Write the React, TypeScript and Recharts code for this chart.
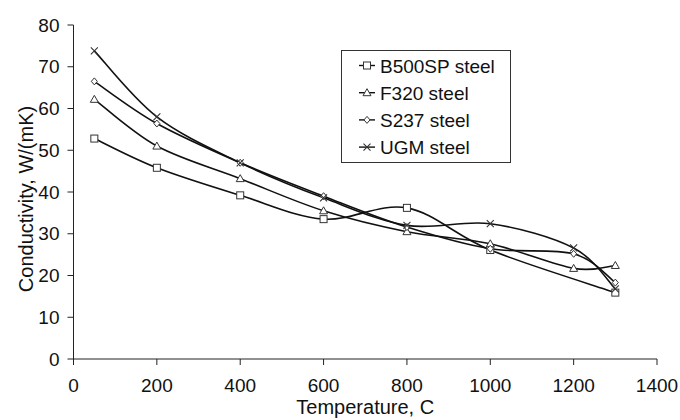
import React from 'react';
import { LineChart, Line, XAxis, YAxis, Legend } from 'recharts';

const temperatures = [50, 200, 400, 600, 800, 1000, 1200, 1300];
const b500sp = [52.8, 45.8, 39.2, 33.5, 36.2, 26.1, null, 15.9];
const f320 = [62.2, 51.0, 43.2, 35.5, 30.5, 27.6, 21.7, 22.4];
const s237 = [66.5, 56.4, 47.0, 39.0, 31.6, 26.4, 25.2, 18.3];
const ugm = [73.8, 58.0, 47.0, 38.6, 32.0, 32.4, 26.6, 16.8];

const xTicks = [0, 200, 400, 600, 800, 1000, 1200, 1400];
const yTicks = [0, 10, 20, 30, 40, 50, 60, 70, 80];

const FONT = '"Liberation Sans", Arial, sans-serif';
const INK = '#111';

type MarkerKind = 'square' | 'triangle' | 'diamond' | 'cross';

const series: { key: string; name: string; marker: MarkerKind }[] = [
    { key: 'b500sp', name: 'B500SP steel', marker: 'square' },
    { key: 'f320', name: 'F320 steel', marker: 'triangle' },
    { key: 's237', name: 'S237 steel', marker: 'diamond' },
    { key: 'ugm', name: 'UGM steel', marker: 'cross' },
];

const data = temperatures.map((t, i) => ({
    t,
    b500sp: b500sp[i],
    f320: f320[i],
    s237: s237[i],
    ugm: ugm[i],
}));

// Excel-like smoothed line (Catmull-Rom as bezier)
const smoothCurve = (context: any) => {
    let pts: [number, number][] = [];
    return {
        areaStart() {},
        areaEnd() {},
        lineStart() {
            pts = [];
        },
        lineEnd() {
            const n = pts.length;
            if (!n) return;
            context.moveTo(pts[0][0], pts[0][1]);
            for (let i = 0; i < n - 1; i++) {
                const p0 = pts[Math.max(i - 1, 0)];
                const p1 = pts[i];
                const p2 = pts[i + 1];
                const p3 = pts[Math.min(i + 2, n - 1)];
                context.bezierCurveTo(
                    p1[0] + (p2[0] - p0[0]) / 6,
                    p1[1] + (p2[1] - p0[1]) / 6,
                    p2[0] - (p3[0] - p1[0]) / 6,
                    p2[1] - (p3[1] - p1[1]) / 6,
                    p2[0],
                    p2[1]
                );
            }
        },
        point(x: number, y: number) {
            pts.push([+x, +y]);
        },
    };
};

const Marker: React.FC<{ kind: MarkerKind; cx: number; cy: number }> = ({ kind, cx, cy }) => {
    const common = { stroke: '#333', strokeWidth: 1, fill: '#fff' };
    if (kind === 'square') {
        return <rect x={cx - 3.5} y={cy - 3.5} width={7} height={7} {...common} />;
    }
    if (kind === 'triangle') {
        return <polygon points={`${cx},${cy - 4} ${cx + 4},${cy + 3} ${cx - 4},${cy + 3}`} {...common} />;
    }
    if (kind === 'diamond') {
        return <polygon points={`${cx},${cy - 3.5} ${cx + 3},${cy} ${cx},${cy + 3.5} ${cx - 3},${cy}`} {...common} />;
    }
    return (
        <path
            d={`M${cx - 3.5},${cy - 3.5}L${cx + 3.5},${cy + 3.5}M${cx - 3.5},${cy + 3.5}L${cx + 3.5},${cy - 3.5}`}
            stroke="#333"
            strokeWidth={1.1}
            fill="none"
        />
    );
};

const LegendBox = () => (
    <div
        style={{
            width: 170,
            height: 113,
            border: '1px solid #333',
            background: '#fff',
            boxSizing: 'border-box',
        }}
    >
        <svg width={168} height={111} style={{ display: 'block' }}>
            {series.map((s, i) => {
                const y = 14.5 + i * 27.2;
                return (
                    <g key={s.key}>
                        <line x1={17} x2={33} y1={y} y2={y} stroke={INK} strokeWidth={1.4} />
                        <Marker kind={s.marker} cx={25} cy={y} />
                        <text x={38} y={y + 7} fontSize={19} fontFamily={FONT} fill={INK}>
                            {s.name}
                        </text>
                    </g>
                );
            })}
        </svg>
    </div>
);

const YTitle = () => (
    <text
        transform="translate(33,199) rotate(-90)"
        textAnchor="middle"
        fontSize={20}
        fontFamily={FONT}
        fill={INK}
    >
        Conductivity, W/(mK)
    </text>
);

export default function App() {
    return (
        <div style={{ position: 'absolute', left: 0, top: 0, width: 680, height: 420, background: '#fff' }}>
            <LineChart
                width={680}
                height={420}
                data={data}
                margin={{ top: 25, right: 23, bottom: 6, left: 0 }}
                style={{ fontFamily: FONT }}
            >
                <XAxis
                    dataKey="t"
                    type="number"
                    domain={[0, 1400]}
                    ticks={xTicks}
                    interval={0}
                    height={55}
                    tickSize={6}
                    tickMargin={14}
                    stroke="#222"
                    tick={{ fill: INK, fontSize: 19, fontFamily: FONT }}
                    label={{
                        value: 'Temperature, C',
                        position: 'insideBottom',
                        offset: 0,
                        fill: INK,
                        fontSize: 20,
                        fontFamily: FONT,
                    }}
                />
                <YAxis
                    type="number"
                    domain={[0, 80]}
                    ticks={yTicks}
                    interval={0}
                    width={73.5}
                    tickSize={6}
                    tickMargin={8}
                    stroke="#222"
                    tick={{ fill: INK, fontSize: 19, fontFamily: FONT }}
                    label={{ content: () => <YTitle /> }}
                />
                <Legend
                    layout="vertical"
                    align="center"
                    verticalAlign="middle"
                    content={() => <LegendBox />}
                    wrapperStyle={{ position: 'absolute', left: 341, top: 50, width: 170, height: 113 }}
                />
                {series.map((s) => (
                    <Line
                        key={s.key}
                        dataKey={s.key}
                        name={s.name}
                        type={smoothCurve as any}
                        stroke={INK}
                        strokeWidth={1.6}
                        connectNulls
                        isAnimationActive={false}
                        activeDot={false}
                        dot={(props: any) =>
                            props.cx == null || props.cy == null || props.value == null ? (
                                <g key={`${s.key}-${props.index}`} />
                            ) : (
                                <g key={`${s.key}-${props.index}`}>
                                    <Marker kind={s.marker} cx={props.cx} cy={props.cy} />
                                </g>
                            )
                        }
                    />
                ))}
            </LineChart>
        </div>
    );
}
